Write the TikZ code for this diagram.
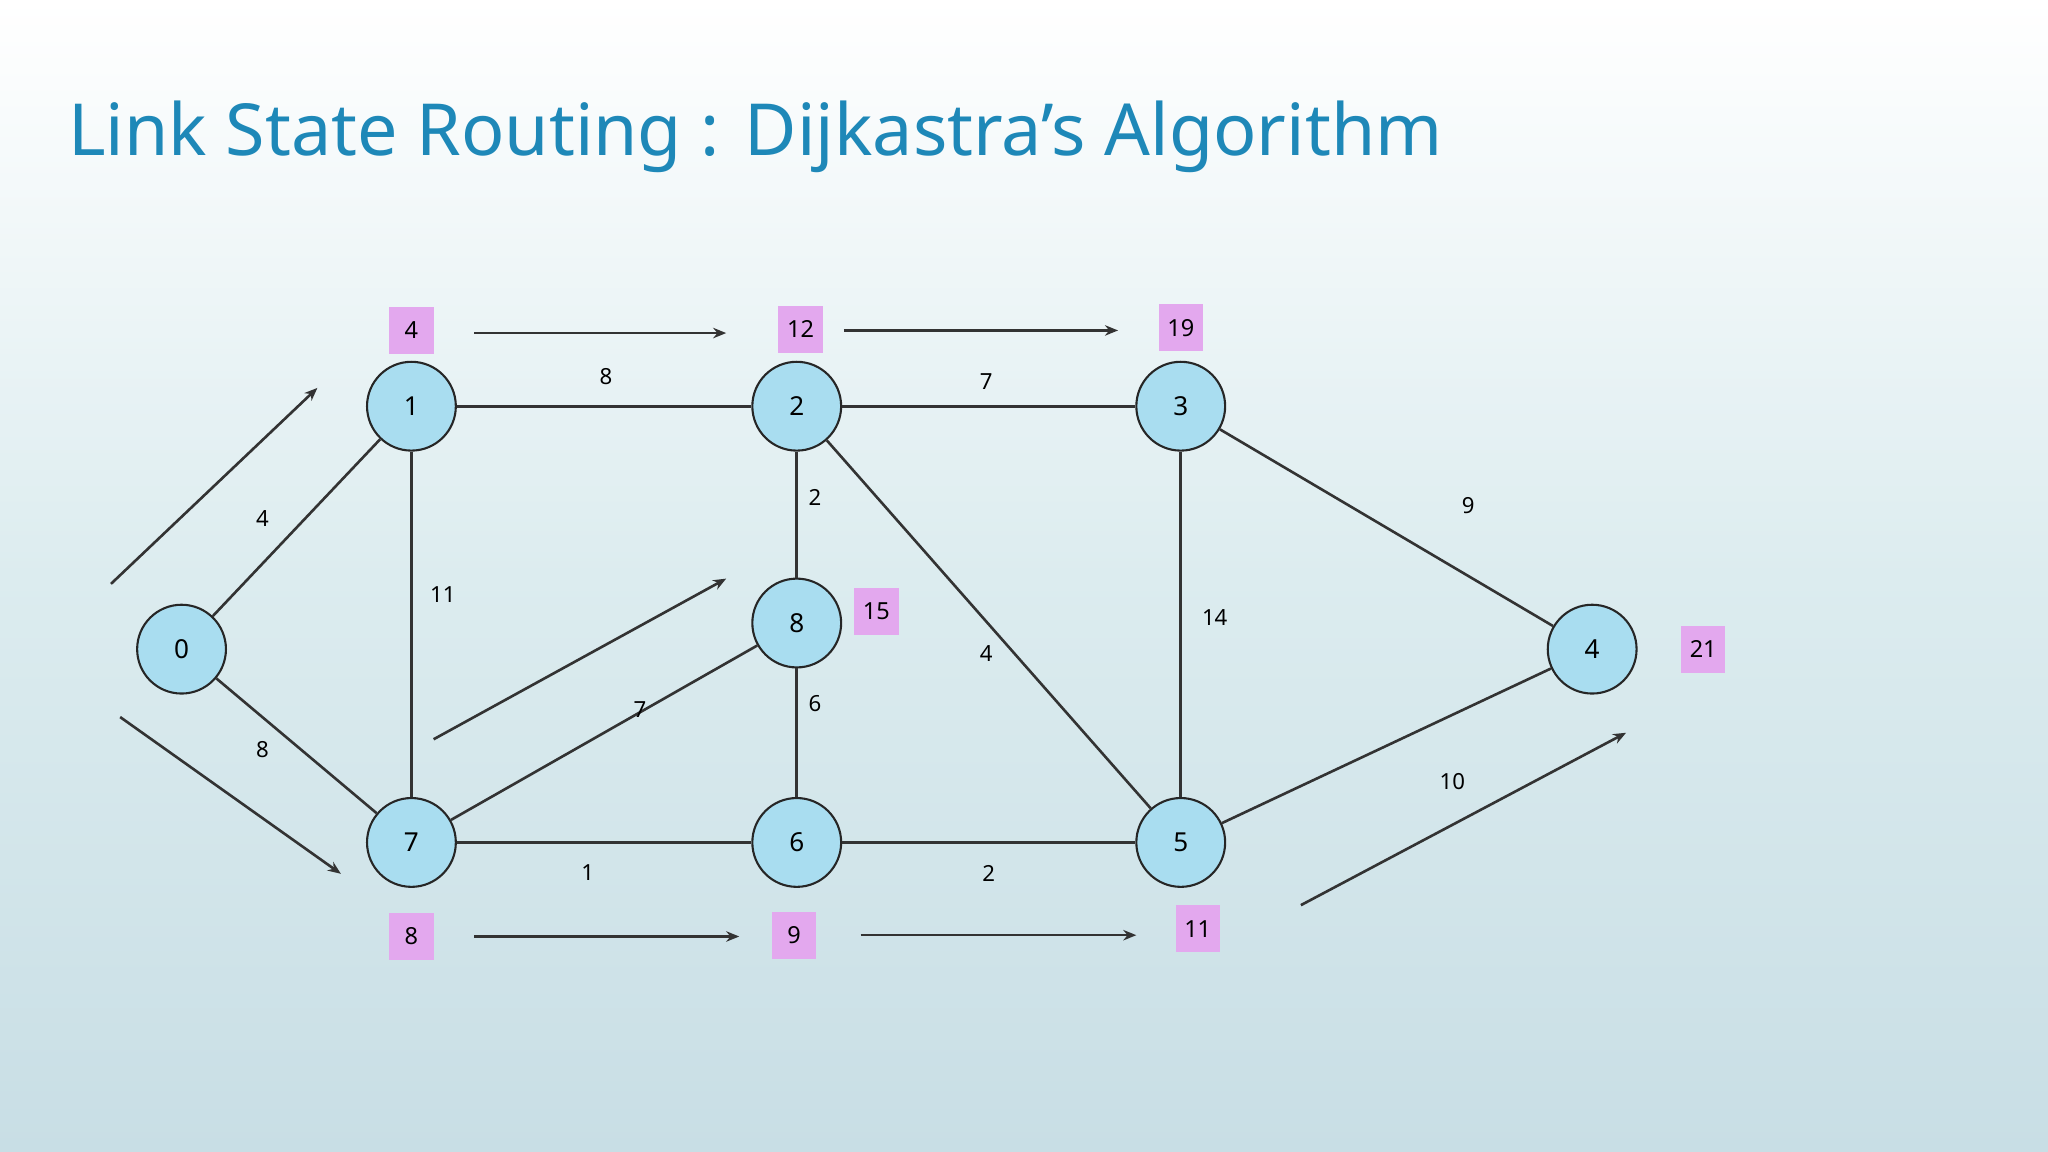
\documentclass[tikz,border=0pt]{standalone}
\usepackage{fontspec}
\setmainfont{Noto Sans}
\usetikzlibrary{arrows.meta}
\definecolor{nodefill}{HTML}{A9DDF0}
\definecolor{boxfill}{HTML}{E3A8EE}
\definecolor{titlec}{HTML}{1E88B8}
\definecolor{bgbot}{HTML}{C8DEE5}
\definecolor{bgmid}{HTML}{DCECEF}
\begin{document}
\begin{tikzpicture}[x=1pt,y=-1pt,
  v/.style={circle,draw=black!85,line width=1.6pt,fill=nodefill,minimum size=68pt,inner sep=0pt,font=\fontsize{20}{20}\selectfont},
  e/.style={draw=black!80,line width=2pt},
  w/.style={font=\fontsize{17}{17}\selectfont,inner sep=1pt},
  lb/.style={fill=boxfill,minimum height=36pt,minimum width=34pt,inner xsep=6pt,inner ysep=3pt,font=\fontsize{18}{18}\selectfont},
  ar/.style={draw=black!80,line width=2pt,-{Stealth[length=10pt,width=8pt]}}]
\shade[top color=white,bottom color=bgbot,middle color=bgmid] (0,0) rectangle (1568,882);
\useasboundingbox (0,0) rectangle (1568,882);
\node[anchor=west,text=titlec,font=\fontsize{55}{55}\selectfont,inner sep=0pt] (title) at (52,105) {Link State Routing : Dijkastra’s Algorithm};
\node[v] (n0) at (139,497) {0};
\node[v] (n1) at (315,311) {1};
\node[v] (n2) at (610,311) {2};
\node[v] (n3) at (904,311) {3};
\node[v] (n8) at (610,477) {8};
\node[v] (n4) at (1219,497) {4};
\node[v] (n7) at (315,645) {7};
\node[v] (n6) at (610,645) {6};
\node[v] (n5) at (904,645) {5};
\draw[e] (n0)--(n1); \draw[e] (n0)--(n7); \draw[e] (n1)--(n7);
\draw[e] (n1)--(n2); \draw[e] (n2)--(n3); \draw[e] (n2)--(n8);
\draw[e] (n2)--(n5); \draw[e] (n3)--(n5); \draw[e] (n3)--(n4);
\draw[e] (n7)--(n8); \draw[e] (n8)--(n6); \draw[e] (n7)--(n6);
\draw[e] (n6)--(n5); \draw[e] (n5)--(n4);
\node[w] (w1) at (201,397) {4};
\node[w] (w2) at (201,574) {8};
\node[w] (w3) at (339,455) {11};
\node[w] (w4) at (464,288) {8};
\node[w] (w5) at (755,292) {7};
\node[w] (w6) at (624,381) {2};
\node[w] (w7) at (490,543) {7};
\node[w] (w8) at (624,539) {6};
\node[w] (w9) at (755,500) {4};
\node[w] (w10) at (930,473) {14};
\node[w] (w11) at (1124,387) {9};
\node[w] (w12) at (450,668) {1};
\node[w] (w13) at (757,669) {2};
\node[w] (w14) at (1112,598) {10};
\node[lb] (b1) at (315,253) {4};
\node[lb] (b2) at (613,252) {12};
\node[lb] (b3) at (904,251) {19};
\node[lb] (b8) at (671,468) {15};
\node[lb] (b4) at (1304,497) {21};
\node[lb] (b7) at (315,717) {8};
\node[lb] (b6) at (608,716) {9};
\node[lb] (b5) at (917,711) {11};
\coordinate (a1s) at (85,447); \coordinate (a1e) at (243,297);
\coordinate (a2s) at (92,549); \coordinate (a2e) at (261,669);
\coordinate (a3s) at (363,255); \coordinate (a3e) at (556,255);
\coordinate (a4s) at (646,253); \coordinate (a4e) at (856,253);
\coordinate (a5s) at (332,566); \coordinate (a5e) at (556,443);
\coordinate (a6s) at (363,717); \coordinate (a6e) at (566,717);
\coordinate (a7s) at (659,716); \coordinate (a7e) at (870,716);
\coordinate (a8s) at (996,693); \coordinate (a8e) at (1245,561);
\foreach \i in {1,...,8} \draw[ar] (a\i s)--(a\i e);
\end{tikzpicture}
\end{document}
